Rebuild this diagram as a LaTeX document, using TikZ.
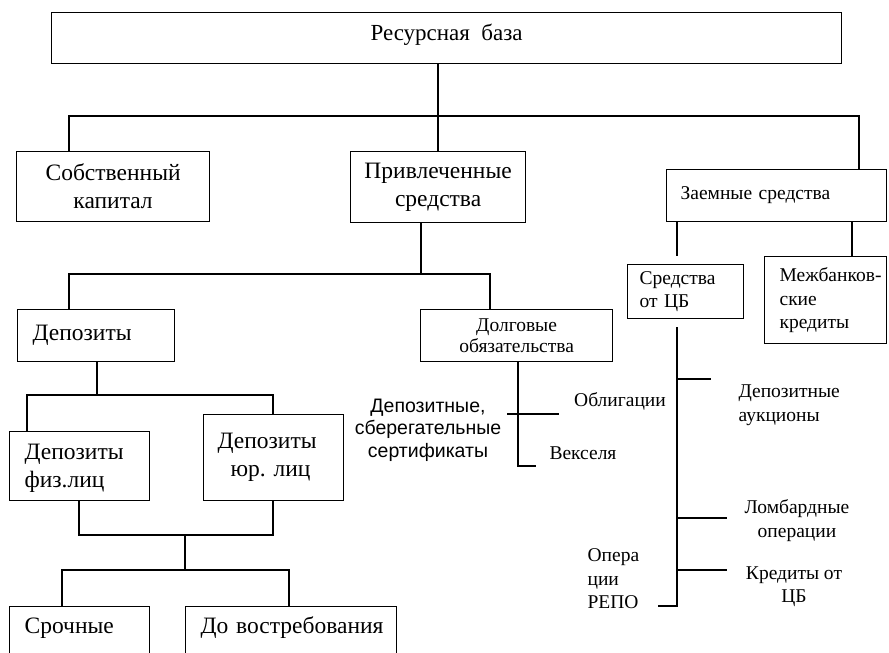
\documentclass[tikz,border=0pt]{standalone}
\usepackage{fontspec}
\setmainfont{Liberation Serif}
\newfontfamily\sansf{Liberation Sans}
\newcommand\ftop{\fontsize{23}{26}\selectfont}
\newcommand\fbig{\fontsize{23.5}{28}\selectfont}
\newcommand\fmid{\fontsize{19.5}{23.5}\selectfont}
\newcommand\fsm{\fontsize{19.5}{21.5}\selectfont}
\newcommand\fsans{\sansf\fontsize{19.5}{22.5}\selectfont}
\hbadness=10000 \hfuzz=100pt
\frenchspacing
\begin{document}
\begin{tikzpicture}[x=1pt,y=-1pt,line width=1.2pt,
  bx/.style={draw, inner ysep=0pt, anchor=north west},
  txt/.style={inner sep=0pt, font=\fmid}]
\useasboundingbox (0,0) rectangle (889,653);
\clip (0,0) rectangle (889,653);
% boxes
\node[bx, minimum width=790pt, text height=28pt, text depth=23pt, font=\ftop] (R) at (51,12) {Ресурсная\ \ база};
\node[bx, minimum width=193pt, minimum height=70pt, align=center, font=\fbig] (S) at (16,151) {Собственный\\капитал};
\node[bx, minimum width=175pt, minimum height=71pt, align=center, font=\fbig] (P) at (350,151) {Привлеченные\\средства};
\node[bx, minimum height=52pt, inner xsep=14pt, text width=192pt, align=left, font=\fmid] (Z) at (666,169) {Заемные средства};
\node[bx, minimum height=87pt, inner xsep=15pt, text width=92pt, align=left, font=\fmid] (M) at (764,256) {\mbox{Межбанков-}\\ские\\кредиты};
\node[bx, minimum height=54pt, inner xsep=12pt, text width=92pt, align=left, font=\fmid] (C) at (627,264) {Средства\\от ЦБ};
\node[bx, minimum height=52pt, inner xsep=15pt, text width=127pt, align=left, font=\fbig] (D) at (17,309) {Депозиты};
\node[bx, minimum width=192pt, minimum height=52pt, align=center, font=\fsm] (L) at (420,309) {Долговые\\обязательства};
\node[bx, text height=28pt, text depth=41pt, inner xsep=15pt, text width=110pt, align=left, font=\fbig] (DF) at (9,431) {Депозиты\\физ.лиц};
\node[bx, minimum height=86pt, inner xsep=14pt, text width=112pt, align=left, font=\fbig] (DU) at (203,414) {Депозиты\\\hspace*{13pt}юр. лиц};
\node[bx, inner xsep=15pt, text width=110pt, text height=27pt, text depth=30pt, align=left, font=\fbig] (SR) at (9,606) {Срочные};
\node[bx, inner xsep=15pt, text width=181pt, text height=27pt, text depth=30pt, align=left, font=\fbig] (DV) at (185,606) {\mbox{До востребования}};
% free labels
\node[txt] (obl) at (620,401) {Облигации};
\node[txt] (veks) at (583,453) {Векселя};
\node[txt, font=\fsans, align=center] (dss) at (428,430) {Депозитные,\\сберегательные\\сертификаты};
\node[txt, align=left, anchor=west] (dauk) at (738,405) {Депозитные\\аукционы};
\node[txt, align=center] (lomb) at (797,520.5) {Ломбардные\\операции};
\node[txt, align=center] (kred) at (794,586.5) {Кредиты от\\ЦБ};
\node[txt, align=left, anchor=west] (repo) at (587,579) {Опера\\ции\\РЕПО};
% junction coordinates
\coordinate (j1) at (438,116);
\coordinate (h1l) at (69,116);
\coordinate (h1r) at (859,116);
\coordinate (h2m) at (421,274);
\coordinate (h2l) at (69,274);
\coordinate (h2r) at (490,274);
\coordinate (zc) at (677,256);
\coordinate (zm) at (852,230);
\coordinate (ct) at (677,327);
\coordinate (cb) at (677,606);
\coordinate (cbe) at (658,606);
\coordinate (b1) at (711,379);
\coordinate (b2) at (727,518);
\coordinate (b3) at (727,570);
\coordinate (lv) at (518,466);
\coordinate (lve) at (536,466);
\coordinate (x1) at (507,414);
\coordinate (x2) at (559,414);
\coordinate (h3m) at (97,395);
\coordinate (h3l) at (27,395);
\coordinate (h3r) at (273,395);
\coordinate (h4l) at (79,535);
\coordinate (h4r) at (273,535);
\coordinate (h4m) at (185,535);
\coordinate (h5m) at (185,570);
\coordinate (h5l) at (62,570);
\coordinate (h5r) at (289,570);
% connectors
\draw (R.south -| j1) -- (P.north -| j1);
\draw (S.north -| h1l) -- (h1l) -- (h1r) -- (Z.north -| h1r);
\draw (P.south -| h2m) -- (h2m);
\draw (D.north -| h2l) -- (h2l) -- (h2r) -- (L.north -| h2r);
\draw (Z.south -| zc) -- (zc);
\draw (Z.south -| zm) -- (M.north -| zm);
\draw (ct) -- (cb) -- (cbe);
\draw (b1 -| ct) -- (b1);
\draw (b2 -| ct) -- (b2);
\draw (b3 -| ct) -- (b3);
\draw (L.south -| lv) -- (lv) -- (lve);
\draw (x1) -- (x2);
\draw (D.south -| h3m) -- (h3m);
\draw (DF.north -| h3l) -- (h3l) -- (h3r) -- (DU.north -| h3r);
\draw (DF.south -| h4l) -- (h4l) -- (h4r) -- (DU.south -| h4r);
\draw (h4m) -- (h5m);
\draw (SR.north -| h5l) -- (h5l) -- (h5r) -- (DV.north -| h5r);
\end{tikzpicture}
\end{document}
